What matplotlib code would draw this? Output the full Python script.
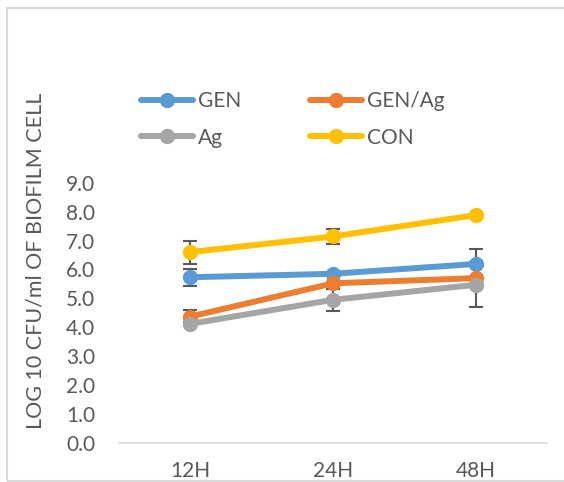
import numpy as np
import matplotlib.pyplot as plt
from matplotlib.patches import Rectangle

times = ["12H", "24H", "48H"]

gen = np.array([5.73, 5.85, 6.19])
gen_ag = np.array([4.37, 5.52, 5.70])
ag = np.array([4.12, 4.95, 5.47])
con = np.array([6.60, 7.14, 7.88])

gen_err = np.array([0.30, 0.05, 0.52])
gen_ag_err = np.array([0.23, 0.05, 0.05])
ag_err = np.array([0.05, 0.38, 0.77])
con_err = np.array([0.40, 0.26, 0.05])

plt.rcParams['font.family'] = ['Lato', 'DejaVu Sans']
txt = "#595959"

fig = plt.figure(figsize=(5.64, 4.82), dpi=100)
ax = fig.add_axes([0.211, 0.081, 0.759, 0.540])

x = np.arange(len(times))
series = [("GEN", gen, gen_err, "#5b9bd5"),
          ("GEN/Ag", gen_ag, gen_ag_err, "#ed7d31"),
          ("Ag", ag, ag_err, "#a5a5a5"),
          ("CON", con, con_err, "#ffc000")]

lines = {}
for i, (name, y, e, c) in enumerate(series):
    ax.errorbar(x, y, yerr=e, fmt="none", ecolor="#595959", elinewidth=1.5,
                capsize=5, capthick=1.5, zorder=1)
    lines[name], = ax.plot(x, y, color=c, lw=4.3, marker="o", markersize=10,
                           label=name, zorder=3 + i, solid_capstyle="round")

ax.set_xlim(-0.5, 2.5)
ax.set_ylim(0, 9)
ax.set_yticks(np.arange(0, 9.1, 1))
ax.set_yticklabels(["%.1f" % v for v in np.arange(0, 9.1, 1)])
ax.set_xticks(x)
ax.set_xticklabels(times)
ax.tick_params(length=0, labelsize=15, colors=txt)
ax.tick_params(axis="y", pad=17)
ax.tick_params(axis="x", pad=13)
for s in ["top", "right", "left"]:
    ax.spines[s].set_visible(False)
ax.spines["bottom"].set_color("#d9d9d9")
ax.spines["bottom"].set_linewidth(1.2)
ax.set_ylabel("LOG 10 CFU/ml OF BIOFILM CELL", fontsize=15.5, color=txt)
ax.yaxis.set_label_coords(-0.172, 0.70)

order = ["GEN", "Ag", "GEN/Ag", "CON"]
fig.legend([lines[n] for n in order], order, loc="upper left",
           bbox_to_anchor=(0.216, 0.85), ncol=2, frameon=False, fontsize=15,
           handlelength=2.5, columnspacing=3.3, handletextpad=0.25,
           labelspacing=0.8, labelcolor=txt)

fig.patches.append(Rectangle((7 / 564, 1 / 482), 1.2, 1 - 9 / 482,
                             transform=fig.transFigure, fill=False,
                             edgecolor="#d9d9d9", lw=1.5))
fig.savefig("out.png", dpi=100)
